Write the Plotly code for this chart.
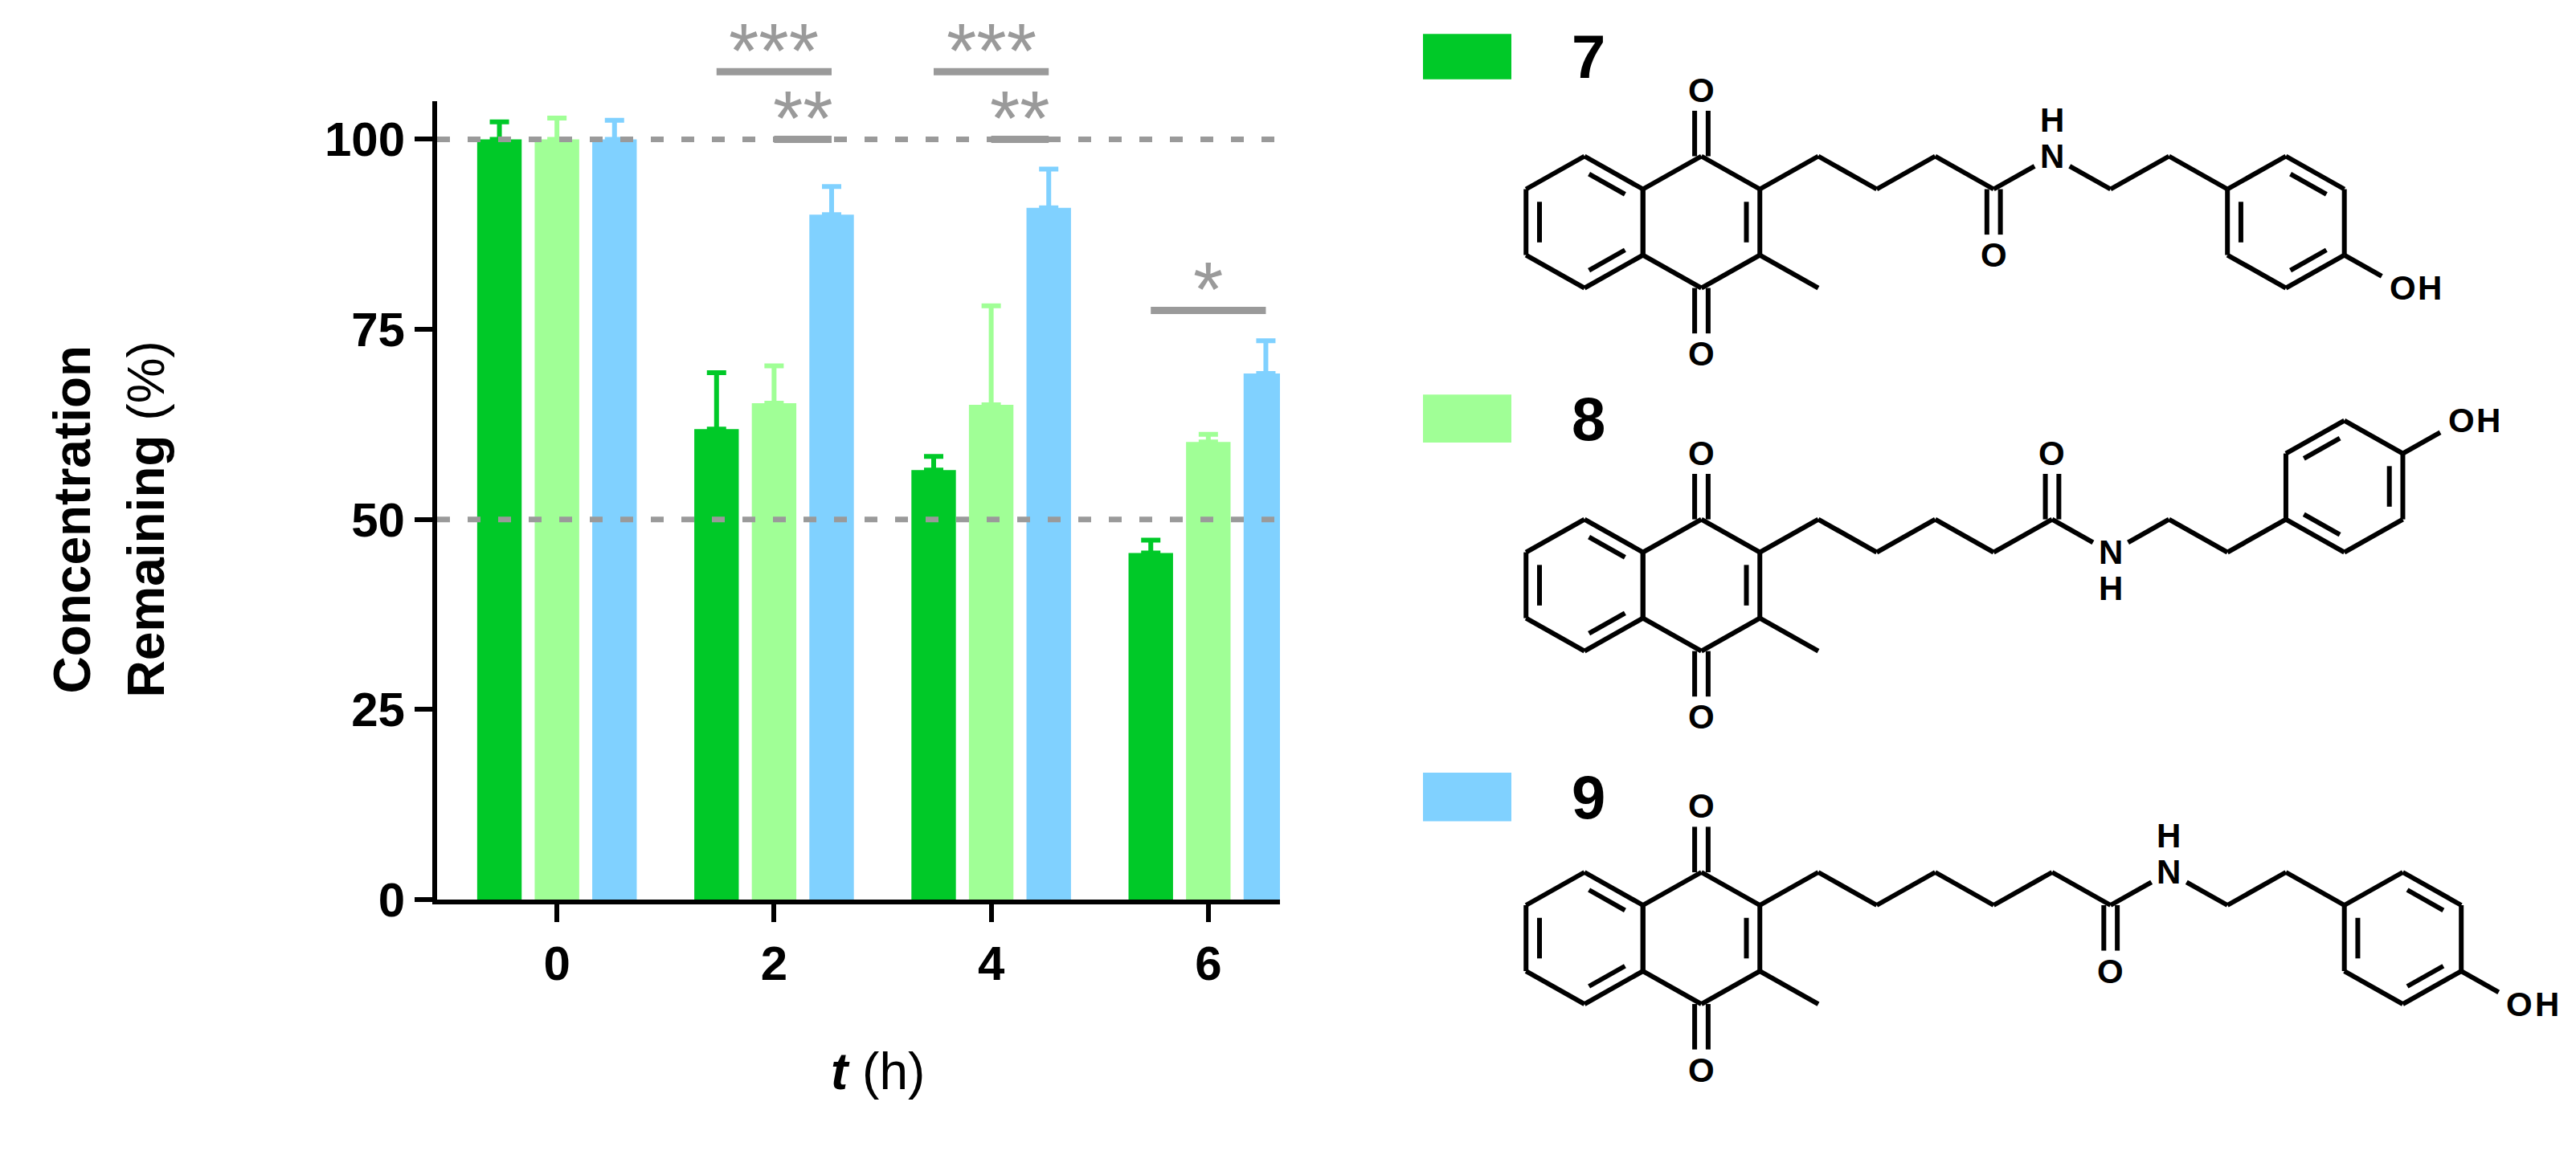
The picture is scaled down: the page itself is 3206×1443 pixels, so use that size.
import math
import plotly.graph_objects as go

# ---------------- data ----------------
times = ["0", "2", "4", "6"]
series = ["7", "8", "9"]
colors = ["#00C928", "#A0FF96", "#80D1FF"]
mean_7 = [100.0, 61.9, 56.5, 45.6]
mean_8 = [100.0, 65.3, 65.1, 60.2]
mean_9 = [100.0, 90.1, 91.0, 69.2]
err_7 = [2.3, 7.4, 1.8, 1.7]
err_8 = [2.8, 4.9, 13.0, 1.0]
err_9 = [2.5, 3.7, 5.1, 4.3]
yticks = [0, 25, 50, 75, 100]
ref_lines = [50, 100]
# significance: (time index, series a, series b, y, label)
sig = [(1, 0, 2, 108.9, "***"), (1, 1, 2, 100.0, "**"),
       (2, 0, 2, 108.9, "***"), (2, 1, 2, 100.0, "**"),
       (3, 0, 2, 77.5, "*")]

W, H = 3206, 1443
means = [mean_7, mean_8, mean_9]
errs = [err_7, err_8, err_9]
offs = [-0.265, 0.0, 0.265]
bw = 0.205
XR = [-0.552, 3.33]
YR = [0, 105]
x0p, x1p, y0p, y1p = 536, 1585, 1139, 121


def to_px(xv, yv):
    return (x0p + (xv - XR[0]) / (XR[1] - XR[0]) * (x1p - x0p),
            y0p - (yv - YR[0]) / (YR[1] - YR[0]) * (y0p - y1p))


fig = go.Figure()
for s in range(3):
    fig.add_trace(go.Bar(
        x=[i + offs[s] for i in range(len(times))], y=means[s], width=bw,
        marker=dict(color=colors[s], line=dict(width=0)), name=series[s],
        error_y=dict(type="data", array=errs[s], arrayminus=[0] * 4, symmetric=False,
                     color=colors[s], thickness=6, width=12),
        showlegend=False))

gray = "#9a9a9a"
for v in ref_lines:
    fig.add_shape(type="line", xref="x", yref="y", x0=XR[0], x1=XR[1], y0=v, y1=v,
                  line=dict(color=gray, width=7, dash="16px,22px"), layer="above")
for (t, a, b, yv, lab) in sig:
    pa = to_px(t + offs[a], yv)
    pb = to_px(t + offs[b], yv)
    fig.add_shape(type="line", xref="x2", yref="y2", x0=pa[0], x1=pb[0], y0=pa[1], y1=pb[1],
                  line=dict(color=gray, width=9), layer="above")
    pl = to_px(t + (offs[a] + offs[b]) / 2, yv + 4.3)
    fig.add_annotation(x=pl[0], y=pl[1], xref="x2", yref="y2", text=lab,
                       showarrow=False, yshift=-14,
                       font=dict(family="Liberation Sans", size=96, color=gray))

fig.update_layout(
    width=W, height=H, margin=dict(l=0, r=0, t=0, b=0),
    paper_bgcolor="white", plot_bgcolor="rgba(0,0,0,0)", barmode="overlay",
    xaxis=dict(domain=[x0p / W, x1p / W], range=XR,
               tickvals=list(range(4)), ticktext=["<b>%s</b>" % t for t in times],
               ticks="outside", ticklen=22, tickwidth=6, tickcolor="black",
               showline=True, linewidth=6, linecolor="black", showgrid=False, zeroline=False,
               tickfont=dict(family="Liberation Sans", size=60, color="black")),
    yaxis=dict(domain=[1 - y0p / H, 1 - y1p / H], range=YR,
               tickvals=yticks, ticktext=["<b>%d</b>" % v for v in yticks],
               ticks="outside", ticklen=22, tickwidth=6, tickcolor="black",
               showline=True, linewidth=6, linecolor="black", showgrid=False, zeroline=False,
               tickfont=dict(family="Liberation Sans", size=60, color="black")),
    xaxis2=dict(domain=[0, 1], range=[0, W], visible=False, fixedrange=True, anchor="y2"),
    yaxis2=dict(domain=[0, 1], range=[H, 0], visible=False, fixedrange=True, anchor="x2"),
)

tf = dict(family="Liberation Sans", size=64, color="black")
fig.add_annotation(x=82, y=654, xref="x2", yref="y2", text="<b>Concentration</b>",
                   textangle=-90, showarrow=False, font=tf)
fig.add_annotation(x=174, y=654, xref="x2", yref="y2", text="<b>Remaining</b> (%)",
                   textangle=-90, showarrow=False, font=tf)
fig.add_annotation(x=1084, y=1358, xref="x2", yref="y2", text="<b><i>t</i></b> (h)",
                   showarrow=False, font=tf)

# ---------------- legend ----------------
leg_y = [(35, 93), (495, 556), (977, 1039)]
for s in range(3):
    fig.add_shape(type="rect", xref="x2", yref="y2", x0=1763, x1=1873,
                  y0=leg_y[s][0], y1=leg_y[s][1], fillcolor=colors[s], line=dict(width=0))
    fig.add_annotation(x=1969, y=(leg_y[s][0] + leg_y[s][1]) / 2, xref="x2", yref="y2",
                       text="<b>%s</b>" % series[s], showarrow=False,
                       font=dict(family="Liberation Sans", size=76, color="black"))

# ---------------- structures ----------------
L = 84
c30 = math.cos(math.pi / 6)
segs_x, segs_y = [], []
afont = dict(family="Liberation Sans Narrow, Liberation Sans", size=42, color="black")


def hexv(cx, cy):
    return [(cx, cy + 1), (cx + c30, cy + .5), (cx + c30, cy - .5), (cx, cy - 1),
            (cx - c30, cy - .5), (cx - c30, cy + .5)]


def draw_mol(ox, oy, chain_n, o_up, ph_attach_lowleft):
    def P(p):
        return (ox + L * p[0], oy - L * p[1])

    def seg(a, b, ta=0.0, tb=0.0):
        ax, ay = a; bx, by = b
        dx, dy = bx - ax, by - ay
        A = P((ax + dx * ta, ay + dy * ta)); B = P((bx - dx * tb, by - dy * tb))
        segs_x.extend([A[0], B[0], None]); segs_y.extend([A[1], B[1], None])

    def label(p, txt, dx=0):
        q = P(p)
        fig.add_annotation(x=q[0] + dx, y=q[1], xref="x2", yref="y2", text="<b>%s</b>" % txt,
                           showarrow=False, font=afont)

    def ring(c, dbl):
        v = hexv(*c)
        for i in range(6):
            seg(v[i], v[(i + 1) % 6])
        for (i, j) in dbl:
            a, b = v[i], v[j]
            a2 = (a[0] + (c[0] - a[0]) * .23, a[1] + (c[1] - a[1]) * .23)
            b2 = (b[0] + (c[0] - b[0]) * .23, b[1] + (c[1] - b[1]) * .23)
            seg(a2, b2, .1, .1)
        return v

    def dbl_vert(c, o, frac=0.69):
        for d in (-0.1, 0.1):
            seg((c[0] + d, c[1]), (o[0] + d, o[1]), 0, 1 - frac)

    ring((0, 0), [(4, 5), (0, 1), (2, 3)])
    q = ring((2 * c30, 0), [(1, 2)])
    dbl_vert(q[0], (q[0][0], 2)); label((q[0][0], 2), "O")
    dbl_vert(q[3], (q[3][0], -2)); label((q[3][0], -2), "O")
    seg(q[2], (q[2][0] + c30, -1))  # methyl
    pts = [q[1]]
    up = True
    for k in range(chain_n + 1):
        last = pts[-1]
        pts.append((last[0] + c30, last[1] + (0.5 if up else -0.5)))
        up = not up
    for k in range(len(pts) - 1):
        seg(pts[k], pts[k + 1])
    co = pts[-1]
    if o_up:
        dbl_vert(co, (co[0], co[1] + 1)); label((co[0], co[1] + 1), "O")
    else:
        dbl_vert(co, (co[0], co[1] - 1)); label((co[0], co[1] - 1), "O")
    goes_up = co[1] < 0.75
    n = (co[0] + c30, co[1] + (0.5 if goes_up else -0.5))
    seg(co, n, 0, 0.3)
    label(n, "N")
    label((n[0], n[1] + (0.55 if goes_up else -0.55)), "H")
    c1 = (n[0] + c30, n[1] + (-0.5 if goes_up else 0.5))
    seg(n, c1, 0.3, 0)
    c2 = (c1[0] + c30, c1[1] + (0.5 if goes_up else -0.5))
    c3 = (c2[0] + c30, c2[1] + (-0.5 if goes_up else 0.5))
    seg(c1, c2); seg(c2, c3)
    if ph_attach_lowleft:
        cen = (c3[0] + c30, c3[1] + 0.5)
        v = ring(cen, [(5, 0), (1, 2), (3, 4)])
        vo = v[1]; d = (c30, 0.5)
    else:
        cen = (c3[0] + c30, c3[1] - 0.5)
        v = ring(cen, [(4, 5), (0, 1), (2, 3)])
        vo = v[2]; d = (c30, -0.5)
    opos = (vo[0] + d[0], vo[1] + d[1])
    seg(vo, opos, 0, 0.36)
    label(opos, "O")
    label(opos, "H", dx=0.4 * L)


draw_mol(1964, 275, 3, False, False)
draw_mol(1964, 738, 4, True, True)
draw_mol(1964, 1188, 5, False, False)

fig.add_trace(go.Scatter(x=segs_x, y=segs_y, xaxis="x2", yaxis="y2", mode="lines",
                         line=dict(color="black", width=6), hoverinfo="skip",
                         showlegend=False))

fig.write_html("out.html")
